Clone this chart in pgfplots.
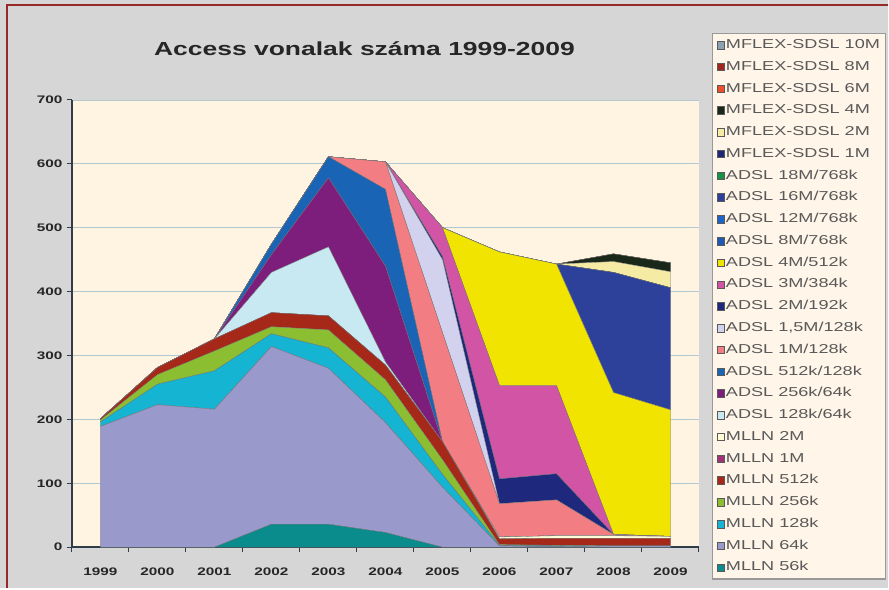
\documentclass[border=0pt]{standalone}
\usepackage{fontspec}
\setmainfont{Liberation Sans}[FakeStretch=1.4]
\usepackage{pgfplots}
\usepackage{pgfplotstable}
\pgfplotsset{compat=1.18}

\definecolor{bggray}{RGB}{214,214,214}
\definecolor{framered}{RGB}{150,40,40}
\definecolor{plotbg}{RGB}{255,244,226}
\definecolor{legendbg}{RGB}{255,245,232}
\definecolor{gridc}{RGB}{180,200,210}
\definecolor{axisc}{RGB}{48,60,72}
\definecolor{lc56}{RGB}{10,140,140}
\definecolor{lc64}{RGB}{153,153,204}
\definecolor{lc128}{RGB}{20,180,210}
\definecolor{lc256}{RGB}{140,190,50}
\definecolor{lc512}{RGB}{165,40,25}
\definecolor{lc1M}{RGB}{160,50,120}
\definecolor{lc2M}{RGB}{255,255,215}
\definecolor{ad128}{RGB}{200,232,242}
\definecolor{ad256}{RGB}{125,30,125}
\definecolor{ad512}{RGB}{25,100,180}
\definecolor{ad1M}{RGB}{242,125,130}
\definecolor{ad15}{RGB}{210,210,238}
\definecolor{ad2M}{RGB}{30,40,125}
\definecolor{ad3M}{RGB}{210,85,165}
\definecolor{ad4M}{RGB}{240,228,0}
\definecolor{ad8M}{RGB}{30,90,180}
\definecolor{ad12M}{RGB}{30,100,200}
\definecolor{ad16M}{RGB}{45,65,155}
\definecolor{ad18M}{RGB}{25,145,70}
\definecolor{mf1M}{RGB}{25,40,120}
\definecolor{mf2M}{RGB}{245,235,165}
\definecolor{mf4M}{RGB}{25,40,25}
\definecolor{mf6M}{RGB}{235,80,45}
\definecolor{mf8M}{RGB}{160,40,30}
\definecolor{mf10M}{RGB}{140,160,180}

\pgfplotstableread{
year l56 l64 l128 l256 l512 l1M l2M a128 a256 a512 a1M a15 a2M a3M a4M a8M a12M a16M a18M m1M m2M m4M m6M m8M m10M
1999 0  189 7  3  2  0 0 0   0   0   0   0   0  0   0   0 0 0   0 0 0  0  0 0 0
2000 0  223 32 15 11 0 0 0   0   0   0   0   0  0   0   0 0 0   0 0 0  0  0 0 0
2001 0  216 60 31 19 0 0 0   0   0   0   0   0  0   0   0 0 0   0 0 0  0  0 0 0
2002 36 278 20 11 22 0 0 63  28  16  0   0   0  0   0   0 0 0   0 0 0  0  0 0 0
2003 36 244 32 28 22 0 0 108 108 33  0   0   0  0   0   0 0 0   0 0 0  0  0 0 0
2004 23 172 40 27 23 0 0 5   150 120 43  0   0  0   0   0 0 0   0 0 0  0  0 0 0
2005 0  94  20 23 28 0 0 0   0   0   171 114 5  45  0   0 0 0   0 0 0  0  0 0 0
2006 0  2   1  1  9  0 3 0   0   0   52  0   39 146 209 0 0 0   0 0 0  0  0 0 0
2007 0  1   1  1  11 0 4 0   0   0   56  0   41 138 190 0 0 0   0 0 0  0  0 0 0
2008 0  2   0  0  12 0 4 0   0   0   2   0   0  0   222 0 0 188 0 0 17 12 0 0 0
2009 0  2   0  0  12 0 3 0   0   0   0   0   0  0   198 0 0 191 0 0 25 14 0 0 0
}\datatable

\begin{document}
\begin{tikzpicture}
\fill[bggray] (0bp,0bp) rectangle (889bp,589bp);
\draw[framered, line width=2.5bp] (7bp,0bp) -- (7bp,584bp) -- (889bp,584bp);
\useasboundingbox (0bp,0bp) rectangle (889bp,589bp);
\begin{axis}[
  at={(72bp,41bp)}, anchor=south west,
  scale only axis, width=628bp, height=448bp,
  xmin=1998.5, xmax=2009.5, ymin=0, ymax=700,
  stack plots=y,
  axis background/.style={fill=plotbg},
  axis x line*=bottom, axis y line*=left,
  axis line style={line width=1.6bp, draw=axisc, -},
  xtick={1999,2000,...,2009},
  minor xtick={1998.5,1999.5,...,2009.5},
  ytick={0,100,...,700},
  ymajorgrids, major grid style={draw=gridc, line width=0.7bp},
  tick align=outside,
  major tick length=5bp, minor tick length=5bp,
  major x tick style={draw=none},
  tick style={draw=axisc, line width=1bp},
  /pgf/number format/assume math mode=true,
  /pgf/number format/1000 sep=,
  ticklabel style={font=\fontsize{11}{12}\selectfont\bfseries, text=black!85},
  xticklabel style={yshift=-12bp},
  yticklabel style={xshift=-1bp},
  reverse legend,
  legend cell align=left,
  legend image code/.code={\fill[#1,draw=gray!70!black,line width=0.4bp] (0bp,-3.8bp) rectangle (7.5bp,3.8bp);},
  legend style={at={(1,1)}, anchor=north west, xshift=13bp, yshift=67bp,
    draw=gray!80, line width=1.2bp, fill=legendbg,
    font=\fontsize{13}{14}\selectfont, text=black!65,
    inner xsep=4bp, inner ysep=4bp,
    row sep=6.8bp,
    nodes={inner sep=1.5bp, text height=9.5bp, text depth=2.5bp}},
  every axis plot/.append style={draw=black!55, line width=0.3bp},
]
\addplot[fill=lc56] table[x=year,y=l56]{\datatable} \closedcycle; \addlegendentry{MLLN 56k}
\addplot[fill=lc64] table[x=year,y=l64]{\datatable} \closedcycle; \addlegendentry{MLLN 64k}
\addplot[fill=lc128] table[x=year,y=l128]{\datatable} \closedcycle; \addlegendentry{MLLN 128k}
\addplot[fill=lc256] table[x=year,y=l256]{\datatable} \closedcycle; \addlegendentry{MLLN 256k}
\addplot[fill=lc512] table[x=year,y=l512]{\datatable} \closedcycle; \addlegendentry{MLLN 512k}
\addplot[fill=lc1M] table[x=year,y=l1M]{\datatable} \closedcycle; \addlegendentry{MLLN 1M}
\addplot[fill=lc2M] table[x=year,y=l2M]{\datatable} \closedcycle; \addlegendentry{MLLN 2M}
\addplot[fill=ad128] table[x=year,y=a128]{\datatable} \closedcycle; \addlegendentry{ADSL 128k/64k}
\addplot[fill=ad256] table[x=year,y=a256]{\datatable} \closedcycle; \addlegendentry{ADSL 256k/64k}
\addplot[fill=ad512] table[x=year,y=a512]{\datatable} \closedcycle; \addlegendentry{ADSL 512k/128k}
\addplot[fill=ad1M] table[x=year,y=a1M]{\datatable} \closedcycle; \addlegendentry{ADSL 1M/128k}
\addplot[fill=ad15] table[x=year,y=a15]{\datatable} \closedcycle; \addlegendentry{ADSL 1,5M/128k}
\addplot[fill=ad2M] table[x=year,y=a2M]{\datatable} \closedcycle; \addlegendentry{ADSL 2M/192k}
\addplot[fill=ad3M] table[x=year,y=a3M]{\datatable} \closedcycle; \addlegendentry{ADSL 3M/384k}
\addplot[fill=ad4M] table[x=year,y=a4M]{\datatable} \closedcycle; \addlegendentry{ADSL 4M/512k}
\addplot[fill=ad8M] table[x=year,y=a8M]{\datatable} \closedcycle; \addlegendentry{ADSL 8M/768k}
\addplot[fill=ad12M] table[x=year,y=a12M]{\datatable} \closedcycle; \addlegendentry{ADSL 12M/768k}
\addplot[fill=ad16M] table[x=year,y=a16M]{\datatable} \closedcycle; \addlegendentry{ADSL 16M/768k}
\addplot[fill=ad18M] table[x=year,y=a18M]{\datatable} \closedcycle; \addlegendentry{ADSL 18M/768k}
\addplot[fill=mf1M] table[x=year,y=m1M]{\datatable} \closedcycle; \addlegendentry{MFLEX-SDSL 1M}
\addplot[fill=mf2M] table[x=year,y=m2M]{\datatable} \closedcycle; \addlegendentry{MFLEX-SDSL 2M}
\addplot[fill=mf4M] table[x=year,y=m4M]{\datatable} \closedcycle; \addlegendentry{MFLEX-SDSL 4M}
\addplot[fill=mf6M] table[x=year,y=m6M]{\datatable} \closedcycle; \addlegendentry{MFLEX-SDSL 6M}
\addplot[fill=mf8M] table[x=year,y=m8M]{\datatable} \closedcycle; \addlegendentry{MFLEX-SDSL 8M}
\addplot[fill=mf10M] table[x=year,y=m10M]{\datatable} \closedcycle; \addlegendentry{MFLEX-SDSL 10M}
\end{axis}
\node[font=\fontsize{19}{22}\selectfont\bfseries, text=black!85] at (365bp,540bp) {Access vonalak száma 1999-2009};
\end{tikzpicture}
\end{document}
